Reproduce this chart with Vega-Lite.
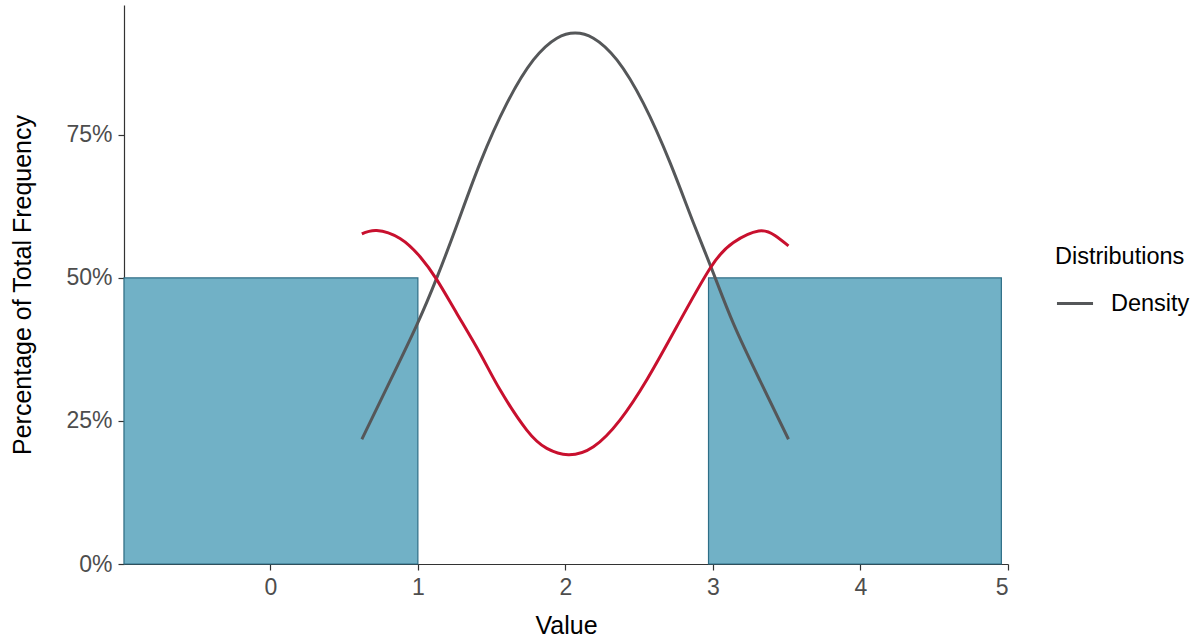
{
  "$schema": "https://vega.github.io/schema/vega-lite/v6.json",
  "width": 884,
  "height": 559,
  "autosize": {"type": "none"},
  "padding": {"left": 124, "top": 5, "right": 191, "bottom": 77},
  "background": "white",
  "config": {
    "font": "Liberation Sans",
    "view": {"stroke": null},
    "axis": {
      "grid": false,
      "domainColor": "#333333",
      "tickColor": "#333333",
      "labelColor": "#4D4D4D",
      "titleColor": "#000000",
      "labelFont": "Liberation Sans",
      "titleFont": "Liberation Sans",
      "titleFontWeight": "normal",
      "labelFontSize": 23,
      "titleFontSize": 25,
      "tickSize": 6,
      "domainWidth": 1.2,
      "tickWidth": 1.2
    },
    "legend": {
      "titleFont": "Liberation Sans",
      "labelFont": "Liberation Sans",
      "titleFontWeight": "normal",
      "titleFontSize": 23.5,
      "labelFontSize": 23.5,
      "titleColor": "#000000",
      "labelColor": "#000000"
    }
  },
  "datasets": {
    "bars": [
      {"x0": -0.992, "x1": 1.0, "pct": 0.5},
      {"x0": 2.97, "x1": 4.955, "pct": 0.5}
    ],
    "density": [
      {"x": 0.620, "y": 0.218, "series": "Density"},
      {"x": 0.812, "y": 0.320, "series": "Density"},
      {"x": 0.993, "y": 0.418, "series": "Density"},
      {"x": 1.128, "y": 0.500, "series": "Density"},
      {"x": 1.264, "y": 0.592, "series": "Density"},
      {"x": 1.422, "y": 0.701, "series": "Density"},
      {"x": 1.603, "y": 0.805, "series": "Density"},
      {"x": 1.783, "y": 0.881, "series": "Density"},
      {"x": 1.942, "y": 0.919, "series": "Density"},
      {"x": 2.066, "y": 0.928, "series": "Density"},
      {"x": 2.190, "y": 0.919, "series": "Density"},
      {"x": 2.349, "y": 0.881, "series": "Density"},
      {"x": 2.529, "y": 0.805, "series": "Density"},
      {"x": 2.710, "y": 0.701, "series": "Density"},
      {"x": 2.868, "y": 0.596, "series": "Density"},
      {"x": 2.993, "y": 0.515, "series": "Density"},
      {"x": 3.139, "y": 0.420, "series": "Density"},
      {"x": 3.320, "y": 0.320, "series": "Density"},
      {"x": 3.512, "y": 0.218, "series": "Density"}
    ],
    "red": [
      {"x": 0.620, "y": 0.577},
      {"x": 0.721, "y": 0.583},
      {"x": 0.879, "y": 0.569},
      {"x": 1.015, "y": 0.537},
      {"x": 1.128, "y": 0.497},
      {"x": 1.264, "y": 0.438},
      {"x": 1.422, "y": 0.368},
      {"x": 1.558, "y": 0.304},
      {"x": 1.738, "y": 0.234},
      {"x": 1.874, "y": 0.202},
      {"x": 2.020, "y": 0.191},
      {"x": 2.190, "y": 0.205},
      {"x": 2.371, "y": 0.252},
      {"x": 2.552, "y": 0.322},
      {"x": 2.755, "y": 0.415},
      {"x": 2.981, "y": 0.517},
      {"x": 3.139, "y": 0.562},
      {"x": 3.310, "y": 0.582},
      {"x": 3.420, "y": 0.574},
      {"x": 3.512, "y": 0.556}
    ]
  },
  "layer": [
    {
      "data": {"name": "bars"},
      "mark": {"type": "rect", "fill": "#71B1C6", "stroke": "#2E6E86", "strokeWidth": 1.2},
      "encoding": {
        "x": {
          "field": "x0", "type": "quantitative",
          "scale": {"domain": [-0.992, 5.0], "nice": false, "zero": false},
          "axis": {"values": [0, 1, 2, 3, 4, 5], "format": "d", "title": "Value", "labelPadding": 6, "titlePadding": 14}
        },
        "x2": {"field": "x1"},
        "y": {
          "field": "pct", "type": "quantitative",
          "scale": {"domain": [0, 0.977], "nice": false},
          "axis": {"values": [0, 0.25, 0.5, 0.75], "format": ".0%", "title": "Percentage of Total Frequency", "labelPadding": 6, "titlePadding": 30}
        },
        "y2": {"datum": 0}
      }
    },
    {
      "data": {"name": "density"},
      "mark": {"type": "line", "strokeWidth": 3, "interpolate": "natural"},
      "encoding": {
        "x": {"field": "x", "type": "quantitative"},
        "y": {"field": "y", "type": "quantitative"},
        "color": {
          "field": "series", "type": "nominal",
          "scale": {"domain": ["Density"], "range": ["#555759"]},
          "legend": {
            "title": "Distributions",
            "orient": "none",
            "legendX": 931,
            "legendY": 240,
            "symbolType": "stroke",
            "symbolStrokeWidth": 3,
            "symbolSize": 1300,
            "labelOffset": 16,
            "titlePadding": 15
          }
        }
      }
    },
    {
      "data": {"name": "red"},
      "mark": {"type": "line", "strokeWidth": 3, "color": "#C8102E", "interpolate": "natural"},
      "encoding": {
        "x": {"field": "x", "type": "quantitative"},
        "y": {"field": "y", "type": "quantitative"}
      }
    }
  ]
}
